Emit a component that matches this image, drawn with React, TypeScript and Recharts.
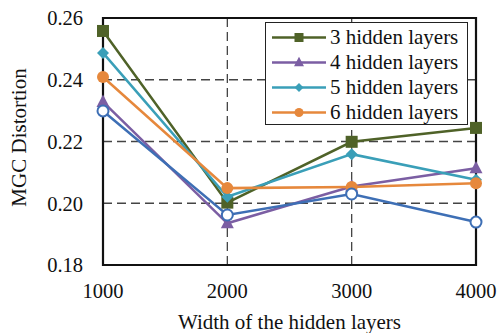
import React from 'react'
import { LineChart, Line, XAxis, YAxis, CartesianGrid, Legend, ReferenceArea } from 'recharts'

const widths = [1000, 2000, 3000, 4000]
const layers3 = [0.2558, 0.2002, 0.2199, 0.2244]
const layers4 = [0.2328, 0.1935, 0.2054, 0.2113]
const layers5 = [0.2487, 0.2021, 0.2159, 0.2076]
const layers6 = [0.2409, 0.2049, 0.2053, 0.2065]
const baseline = [0.2299, 0.1962, 0.203, 0.1939]
const yTicks = [0.18, 0.2, 0.22, 0.24, 0.26]

const FONT = '"Liberation Serif", "Times New Roman", serif'

const data = widths.map((w, i) => ({
  width: w,
  l3: layers3[i],
  l4: layers4[i],
  l5: layers5[i],
  l6: layers6[i],
  base: baseline[i],
}))

type Shape = 'square' | 'triangle' | 'diamond' | 'circle' | 'open'

const drawMarker = (shape: Shape, cx: number, cy: number, color: string, s: number, key?: any) => {
  if (shape === 'square') {
    return <rect key={key} x={cx - s / 2} y={cy - s / 2} width={s} height={s} fill={color} />
  }
  if (shape === 'triangle') {
    const h = s * 0.95
    return (
      <polygon key={key} points={`${cx},${cy - h * 0.6} ${cx - s / 2},${cy + h * 0.4} ${cx + s / 2},${cy + h * 0.4}`} fill={color} />
    )
  }
  if (shape === 'diamond') {
    const r = s / 2
    return <polygon key={key} points={`${cx},${cy - r} ${cx + r},${cy} ${cx},${cy + r} ${cx - r},${cy}`} fill={color} />
  }
  if (shape === 'circle') {
    return <circle key={key} cx={cx} cy={cy} r={s / 2} fill={color} />
  }
  return <circle key={key} cx={cx} cy={cy} r={s / 2} fill="#fff" stroke={color} strokeWidth={2} />
}

const makeDot = (shape: Shape, color: string, s: number) => (props: any) => {
  const { cx, cy, index } = props
  if (cx == null || cy == null) return <g key={index} />
  return drawMarker(shape, cx, cy, color, s, index)
}

const series = [
  { key: 'l3', name: '3 hidden layers', color: '#4f6228', shape: 'square' as Shape, size: 12, legendSize: 9 },
  { key: 'l4', name: '4 hidden layers', color: '#7b5ea3', shape: 'triangle' as Shape, size: 13, legendSize: 10 },
  { key: 'l5', name: '5 hidden layers', color: '#3a9fb8', shape: 'diamond' as Shape, size: 12, legendSize: 9 },
  { key: 'l6', name: '6 hidden layers', color: '#e6883c', shape: 'circle' as Shape, size: 12, legendSize: 9 },
]

const LegendBox = () => (
  <div
    style={{
      border: '1.5px solid #222',
      background: '#fff',
      padding: '2px 0 0 0',
      fontFamily: FONT,
      fontSize: 21,
      color: '#111',
      boxSizing: 'border-box',
      width: 203,
      height: 103,
    }}
  >
    {series.map(s => (
      <div key={s.key} style={{ height: 25, display: 'flex', alignItems: 'center' }}>
        <svg width={64} height={25} style={{ flex: 'none' }}>
          <line x1={6} y1={12.5} x2={60} y2={12.5} stroke={s.color} strokeWidth={2.5} />
          {drawMarker(s.shape, 33, 12.5, s.color, s.legendSize)}
        </svg>
        <span style={{ lineHeight: '25px', whiteSpace: 'nowrap' }}>{s.name}</span>
      </div>
    ))}
  </div>
)

const YTitle = (props: any) => {
  const vb = props.viewBox || {}
  const cy = (vb.y ?? 18) + (vb.height ?? 247) / 2 - 4
  return (
    <text x={26} y={cy} transform={`rotate(-90, 26, ${cy})`} textAnchor="middle" fontFamily={FONT} fontSize={21} fill="#111">
      MGC Distortion
    </text>
  )
}

export default function App() {
  return (
    <div style={{ position: 'absolute', left: 0, top: 0, width: 498, height: 333, background: '#fff', fontFamily: FONT }}>
      <LineChart
        width={498}
        height={333}
        data={data}
        margin={{ top: 18, right: 22, left: 0, bottom: 0 }}
        style={{ fontFamily: FONT }}
      >
        <CartesianGrid stroke="#444" strokeWidth={1.3} strokeDasharray="9 5" />
        <XAxis
          dataKey="width"
          type="number"
          domain={[1000, 4000]}
          ticks={widths}
          height={68}
          tickLine={false}
          axisLine={false}
          tickSize={0}
          tickMargin={18}
          tick={{ fontSize: 20.5, fill: '#111', style: { fontFamily: FONT } }}
          label={{ value: 'Width of the hidden layers', position: 'insideBottom', offset: 4, style: { fontFamily: FONT, fontSize: 21, fill: '#111' } }}
        />
        <YAxis
          type="number"
          domain={[0.18, 0.26]}
          ticks={yTicks}
          width={103}
          tickLine={false}
          axisLine={false}
          tickSize={0}
          tickMargin={20}
          tickFormatter={(v: number) => v.toFixed(2)}
          tick={{ fontSize: 20.5, fill: '#111', style: { fontFamily: FONT } }}
          label={<YTitle />}
        />
        <ReferenceArea x1={1000} x2={4000} y1={0.18} y2={0.26} fill="none" stroke="#111" strokeWidth={2.2} />
        {series.map(s => (
          <Line
            key={s.key}
            dataKey={s.key}
            name={s.name}
            stroke={s.color}
            strokeWidth={2.5}
            dot={makeDot(s.shape, s.color, s.size)}
            activeDot={false}
            isAnimationActive={false}
          />
        ))}
        <Line
          dataKey="base"
          name="baseline"
          legendType="none"
          stroke="#3e6fb5"
          strokeWidth={2.5}
          dot={makeDot('open', '#3e6fb5', 11)}
          activeDot={false}
          isAnimationActive={false}
        />
        <Legend
          content={<LegendBox />}
          layout="horizontal"
          verticalAlign="middle"
          align="center"
          wrapperStyle={{ left: 265, top: 22, width: 203, height: 103 }}
        />
      </LineChart>
    </div>
  )
}
